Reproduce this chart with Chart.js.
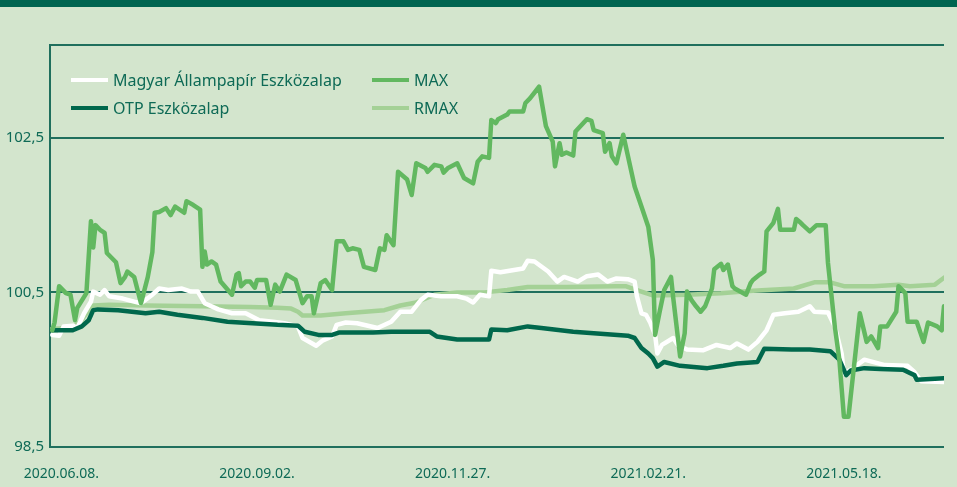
<!DOCTYPE html>
<html>
<head>
<meta charset="utf-8">
<title>Eszközalapok</title>
<script src="https://cdn.jsdelivr.net/npm/chart.js@4/dist/chart.umd.min.js"></script>
<style>
  body { margin: 0; background: #d3e5cd; }
  #wrap { position: relative; width: 957px; height: 487px; background: #d3e5cd; font-family: 'Noto Sans', sans-serif; }
  #band { position: absolute; left: 0; top: 0; width: 957px; height: 7px; background: #006550; }
  #legend .item { position: absolute; display: flex; align-items: center; height: 20px; font-size: 16px; color: #0e6a56; white-space: nowrap; }
  #legend .sw { width: 37px; height: 4px; margin-right: 5px; }
</style>
</head>
<body>
<div id="wrap">
  <canvas id="chart" width="957" height="487"></canvas>
  <div id="band"></div>
  <div id="legend"></div>
</div>
<script>
// days counted from 2020.06.08.
const tickDays = [0, 86, 172, 258, 344];
const tickLabels = ['2020.06.08.', '2020.09.02.', '2020.11.27.', '2021.02.21.', '2021.05.18.'];
const yTicks = [98.5, 100.5, 102.5, 103.7];
const yTickLabels = ['98,5', '100,5', '102,5', ''];

const allampDays = [-4, -1, 1, 5, 7, 10, 13, 14, 17, 19, 21, 27, 32, 35, 40, 43, 47, 53, 57, 60, 63, 69, 75, 81, 87, 93, 98, 104, 106, 112, 115, 119, 121, 125, 130, 139, 145, 149, 154, 158, 161, 167, 174, 178, 181, 184, 188, 189, 193, 203, 205, 208, 214, 218, 221, 227, 231, 236, 240, 244, 249, 252, 253, 255, 257, 259, 261, 262, 264, 269, 271, 275, 282, 288, 294, 297, 302, 306, 310, 313, 318, 324, 329, 331, 337, 340, 343, 344, 347, 353, 362, 372, 375, 378, 388];
const allampVals = [99.95, 99.94, 100.06, 100.07, 100.04, 100.23, 100.38, 100.51, 100.47, 100.53, 100.45, 100.42, 100.38, 100.36, 100.47, 100.55, 100.53, 100.55, 100.51, 100.51, 100.36, 100.28, 100.23, 100.23, 100.14, 100.12, 100.10, 100.06, 99.91, 99.81, 99.88, 99.93, 100.08, 100.11, 100.10, 100.04, 100.12, 100.25, 100.25, 100.40, 100.47, 100.45, 100.45, 100.42, 100.37, 100.47, 100.45, 100.78, 100.76, 100.81, 100.91, 100.90, 100.77, 100.64, 100.70, 100.64, 100.71, 100.73, 100.64, 100.68, 100.67, 100.64, 100.45, 100.23, 100.21, 100.10, 99.95, 99.71, 99.82, 99.91, 99.82, 99.76, 99.75, 99.82, 99.78, 99.84, 99.76, 99.86, 100.01, 100.21, 100.23, 100.25, 100.32, 100.25, 100.24, 100.06, 99.71, 99.45, 99.50, 99.63, 99.56, 99.55, 99.47, 99.35, 99.34];

const otpDays = [-4, 5, 9, 12, 14, 16, 25, 31, 37, 43, 51, 62, 73, 84, 95, 104, 107, 113, 119, 122, 137, 145, 162, 165, 174, 188, 189, 196, 205, 211, 225, 240, 249, 252, 255, 258, 260, 262, 265, 272, 284, 291, 297, 306, 309, 321, 329, 338, 342, 345, 347, 353, 360, 370, 375, 376, 388];
const otpVals = [100.01, 100.01, 100.06, 100.14, 100.27, 100.28, 100.27, 100.25, 100.23, 100.25, 100.21, 100.17, 100.12, 100.10, 100.08, 100.07, 99.99, 99.95, 99.95, 99.98, 99.98, 99.99, 99.99, 99.93, 99.89, 99.89, 100.02, 100.01, 100.06, 100.04, 99.99, 99.96, 99.94, 99.91, 99.78, 99.71, 99.65, 99.54, 99.60, 99.55, 99.52, 99.55, 99.58, 99.60, 99.77, 99.76, 99.76, 99.74, 99.63, 99.43, 99.49, 99.52, 99.51, 99.50, 99.43, 99.37, 99.39];

const maxDays = [-4, -3, -1, 2, 4, 6, 7, 11, 13, 14, 15, 17, 19, 20, 24, 26, 28, 29, 32, 35, 38, 40, 41, 43, 46, 48, 50, 54, 55, 58, 61, 62, 63, 64, 66, 68, 70, 75, 77, 78, 79, 81, 83, 85, 86, 90, 92, 94, 96, 99, 103, 106, 108, 110, 111, 114, 116, 119, 121, 124, 126, 128, 131, 133, 138, 140, 142, 143, 146, 148, 152, 154, 156, 160, 161, 164, 167, 168, 170, 174, 177, 181, 183, 185, 188, 189, 191, 192, 196, 197, 203, 204, 206, 210, 213, 216, 217, 219, 220, 222, 225, 226, 231, 233, 234, 238, 239, 241, 242, 244, 247, 252, 255, 258, 260, 261, 263, 265, 268, 269, 272, 274, 275, 277, 279, 281, 283, 286, 287, 290, 291, 293, 295, 296, 301, 303, 304, 307, 309, 310, 313, 315, 316, 322, 323, 325, 326, 329, 332, 336, 337, 340, 342, 343, 344, 346, 351, 354, 356, 359, 360, 363, 367, 368, 371, 372, 376, 379, 381, 385, 387, 388];
const maxVals = [100.01, 100.11, 100.58, 100.49, 100.47, 100.14, 100.30, 100.49, 101.42, 101.08, 101.37, 101.31, 101.27, 101.01, 100.89, 100.62, 100.70, 100.77, 100.70, 100.36, 100.70, 101.02, 101.53, 101.54, 101.59, 101.50, 101.61, 101.53, 101.68, 101.63, 101.57, 100.83, 101.03, 100.86, 100.90, 100.86, 100.64, 100.47, 100.73, 100.75, 100.58, 100.64, 100.64, 100.56, 100.66, 100.66, 100.34, 100.60, 100.51, 100.73, 100.66, 100.36, 100.45, 100.45, 100.23, 100.62, 100.66, 100.53, 101.16, 101.16, 101.05, 101.07, 101.05, 100.83, 100.79, 101.07, 101.05, 101.24, 101.11, 102.06, 101.96, 101.76, 102.17, 102.11, 102.06, 102.15, 102.13, 102.05, 102.11, 102.17, 101.98, 101.91, 102.19, 102.26, 102.24, 102.73, 102.69, 102.74, 102.80, 102.84, 102.84, 102.95, 103.01, 103.16, 102.65, 102.45, 102.13, 102.43, 102.28, 102.31, 102.27, 102.58, 102.74, 102.72, 102.60, 102.56, 102.32, 102.43, 102.26, 102.17, 102.54, 101.87, 101.61, 101.35, 100.92, 99.95, 100.25, 100.53, 100.70, 100.42, 99.67, 99.97, 100.51, 100.40, 100.32, 100.25, 100.32, 100.55, 100.80, 100.87, 100.79, 100.86, 100.58, 100.55, 100.47, 100.62, 100.66, 100.73, 100.77, 101.29, 101.40, 101.58, 101.31, 101.31, 101.45, 101.40, 101.37, 101.29, 101.37, 101.37, 100.88, 100.06, 99.63, 99.26, 98.89, 98.89, 100.23, 99.86, 99.93, 99.78, 100.06, 100.06, 100.25, 100.58, 100.49, 100.12, 100.12, 99.86, 100.11, 100.06, 100.01, 100.32];

const rmaxDays = [-4, 5, 9, 10, 13, 14, 21, 37, 62, 83, 95, 101, 104, 106, 114, 125, 142, 149, 156, 164, 174, 186, 196, 205, 222, 244, 248, 252, 260, 275, 290, 304, 316, 322, 331, 338, 344, 357, 368, 373, 384, 388];
const rmaxVals = [100.03, 100.04, 100.14, 100.19, 100.30, 100.33, 100.34, 100.33, 100.32, 100.31, 100.30, 100.29, 100.25, 100.20, 100.20, 100.23, 100.27, 100.33, 100.37, 100.47, 100.50, 100.50, 100.53, 100.57, 100.57, 100.58, 100.58, 100.54, 100.46, 100.47, 100.49, 100.52, 100.54, 100.55, 100.63, 100.63, 100.58, 100.58, 100.60, 100.58, 100.60, 100.69];

const inkColor = '#0e6a56';
const gridColor = '#1f6f5d';

function pts(days, vals) {
    return days.map((d, i) => ({ x: d, y: vals[i] }));
}

function line(label, days, vals, color) {
    return {
        label: label,
        data: pts(days, vals),
        borderColor: color,
        backgroundColor: color,
        borderWidth: 4.5,
        pointRadius: 0,
        tension: 0,
        borderJoinStyle: 'round',
        borderCapStyle: 'round'
    };
}

// first dataset is drawn on top
const maxSet = line('MAX', maxDays, maxVals, '#62b860');
const otpSet = line('OTP Eszközalap', otpDays, otpVals, '#00684c');
const allampSet = line('Magyar Állampapír Eszközalap', allampDays, allampVals, '#ffffff');
const rmaxSet = line('RMAX', rmaxDays, rmaxVals, '#a4d196');

const chart = new Chart(document.getElementById('chart'), {
    type: 'line',
    data: { datasets: [maxSet, otpSet, allampSet, rmaxSet] },
    options: {
        responsive: false,
        devicePixelRatio: 1,
        animation: false,
        layout: { padding: { top: 45, right: 13, left: 0, bottom: 0 } },
        plugins: { legend: { display: false }, tooltip: { enabled: false } },
        scales: {
            x: {
                type: 'linear',
                min: -5,
                max: 388,
                grid: { display: false },
                border: { display: false },
                afterBuildTicks: scale => { scale.ticks = tickDays.map(v => ({ value: v })); },
                afterFit: scale => { scale.height = 40; },
                ticks: {
                    autoSkip: false,
                    maxRotation: 0,
                    padding: 11,
                    color: inkColor,
                    font: { family: 'Noto Sans', size: 14 },
                    callback: (v, i) => tickLabels[i]
                }
            },
            y: {
                min: 98.5,
                max: 103.7,
                grid: { color: gridColor, lineWidth: 2, drawTicks: false },
                border: { display: true, color: gridColor, width: 2 },
                afterBuildTicks: scale => { scale.ticks = yTicks.map(v => ({ value: v })); },
                afterFit: scale => { scale.width = 50; },
                ticks: {
                    padding: 6,
                    color: inkColor,
                    font: { family: 'Noto Sans', size: 15 },
                    callback: (v, i) => yTickLabels[i]
                }
            }
        }
    }
});

// legend, two columns inside the plot
const legendSlots = [
    { set: allampSet, left: 71, top: 70 },
    { set: otpSet, left: 71, top: 98 },
    { set: maxSet, left: 372, top: 70 },
    { set: rmaxSet, left: 372, top: 98 }
];
const legendDiv = document.getElementById('legend');
legendSlots.forEach(slot => {
    const item = document.createElement('div');
    item.className = 'item';
    item.style.left = slot.left + 'px';
    item.style.top = slot.top + 'px';
    const sw = document.createElement('span');
    sw.className = 'sw';
    sw.style.background = slot.set.borderColor;
    const txt = document.createElement('span');
    txt.textContent = slot.set.label;
    item.appendChild(sw);
    item.appendChild(txt);
    legendDiv.appendChild(item);
});
</script>
</body>
</html>
